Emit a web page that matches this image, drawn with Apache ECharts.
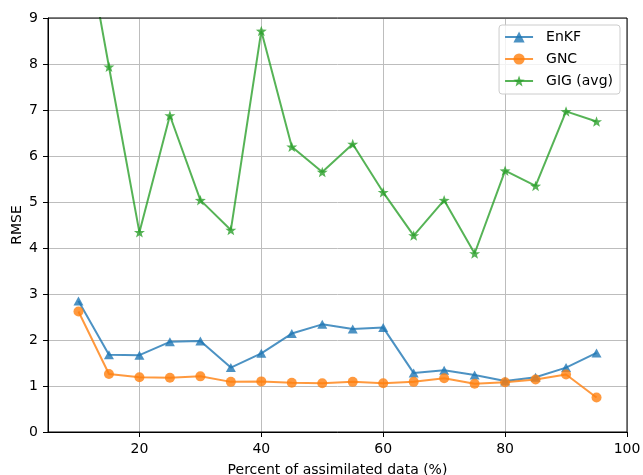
<!DOCTYPE html>
<html lang="en">
<head>
    <meta charset="UTF-8">
    <title>RMSE vs assimilated data</title>
    <script src="https://cdn.jsdelivr.net/npm/echarts@6/dist/echarts.min.js"></script>
    <style>
        html, body { margin: 0; padding: 0; background: #fff; }
        #chart { width: 643px; height: 475px; }
    </style>
</head>
<body>
<div id="chart"></div>
<script>
    // percent of assimilated data
    var percents = [10, 15, 20, 25, 30, 35, 40, 45, 50, 55, 60, 65, 70, 75, 80, 85, 90, 95];
    var enkf = [2.85, 1.68, 1.67, 1.96, 1.98, 1.40, 1.71, 2.14, 2.34, 2.24, 2.27, 1.28, 1.34, 1.24, 1.11, 1.19, 1.40, 1.72];
    var gnc = [2.62, 1.26, 1.19, 1.18, 1.21, 1.09, 1.10, 1.07, 1.06, 1.09, 1.06, 1.09, 1.17, 1.05, 1.08, 1.14, 1.25, 0.75];
    var gig = [11.6, 7.94, 4.34, 6.88, 5.04, 4.39, 8.72, 6.20, 5.65, 6.26, 5.21, 4.27, 5.04, 3.88, 5.68, 5.35, 6.97, 6.75];
    var xTicks = [20, 40, 60, 80, 100];

    var starPath = 'path://M100 0 L124 67 L195.1 69.1 L139 112 L158.8 180.9 L100 140 L41.2 180.9 L61 112 L4.9 69.1 L76 67 Z';
    var font = 'DejaVu Sans';

    function pairs(ys) {
        var out = [];
        for (var i = 0; i < percents.length; i++) {
            out.push([percents[i], ys[i]]);
        }
        return out;
    }

    function makeSeries(name, ys, color, symbol, size) {
        return {
            name: name,
            type: 'line',
            data: pairs(ys),
            symbol: symbol,
            symbolSize: size,
            showAllSymbol: true,
            clip: true,
            lineStyle: { color: color, width: 2, opacity: 0.8 },
            itemStyle: { color: color, opacity: 0.8 },
            emphasis: { disabled: true },
            animation: false
        };
    }

    var myChart = echarts.init(document.getElementById('chart'));
    var option = {
        animation: false,
        grid: { left: 48, right: 16, top: 18, bottom: 43, containLabel: false, outerBoundsMode: 'none' },
        legend: {
            orient: 'vertical',
            right: 23,
            top: 25,
            itemWidth: 28,
            itemHeight: 14,
            itemGap: 8,
            padding: [5, 7, 6, 5],
            backgroundColor: 'rgba(255,255,255,0.8)',
            borderColor: '#cccccc',
            borderWidth: 1,
            borderRadius: 3,
            textStyle: { fontFamily: font, fontSize: 14, color: '#000', padding: [0, 0, 0, 8] },
            data: ['EnKF', 'GNC', 'GIG (avg)']
        },
        xAxis: {
            type: 'value',
            min: 5,
            max: 100,
            name: 'Percent of assimilated data (%)',
            nameLocation: 'middle',
            nameGap: 31,
            nameMoveOverlap: false,
            nameTextStyle: { fontFamily: font, fontSize: 14, color: '#000' },
            axisLine: { show: true, onZero: false, lineStyle: { color: '#000', width: 1 } },
            axisTick: { show: true, length: 5, customValues: xTicks, lineStyle: { color: '#000' } },
            axisLabel: { customValues: xTicks, margin: 10, fontFamily: font, fontSize: 14, color: '#000' },
            splitLine: { show: true, lineStyle: { color: '#bdbdbd', width: 1 } }
        },
        yAxis: {
            type: 'value',
            min: 0,
            max: 9,
            interval: 1,
            name: 'RMSE',
            nameLocation: 'middle',
            nameGap: 24,
            nameMoveOverlap: false,
            nameRotate: 90,
            nameTextStyle: { fontFamily: font, fontSize: 14, color: '#000' },
            axisLine: { show: true, lineStyle: { color: '#000', width: 1 } },
            axisTick: { show: true, length: 5, lineStyle: { color: '#000' } },
            axisLabel: { margin: 10, fontFamily: font, fontSize: 14, color: '#000' },
            splitLine: { show: true, lineStyle: { color: '#bdbdbd', width: 1 } }
        },
        series: [
            makeSeries('EnKF', enkf, '#1f77b4', 'triangle', [10, 9]),
            makeSeries('GNC', gnc, '#ff7f0e', 'circle', 10),
            makeSeries('GIG (avg)', gig, '#2ca02c', starPath, [11, 10.5])
        ]
    };
    myChart.setOption(option);

    // full box around the plot, like the matplotlib frame
    var gridRect = myChart.getModel().getComponent('grid').coordinateSystem.getRect();
    myChart.setOption({
        graphic: [{
            type: 'rect',
            shape: { x: gridRect.x, y: gridRect.y, width: gridRect.width, height: gridRect.height },
            style: { fill: 'none', stroke: '#000', lineWidth: 1 },
            silent: true,
            z: 10
        }]
    });
</script>
</body>
</html>
